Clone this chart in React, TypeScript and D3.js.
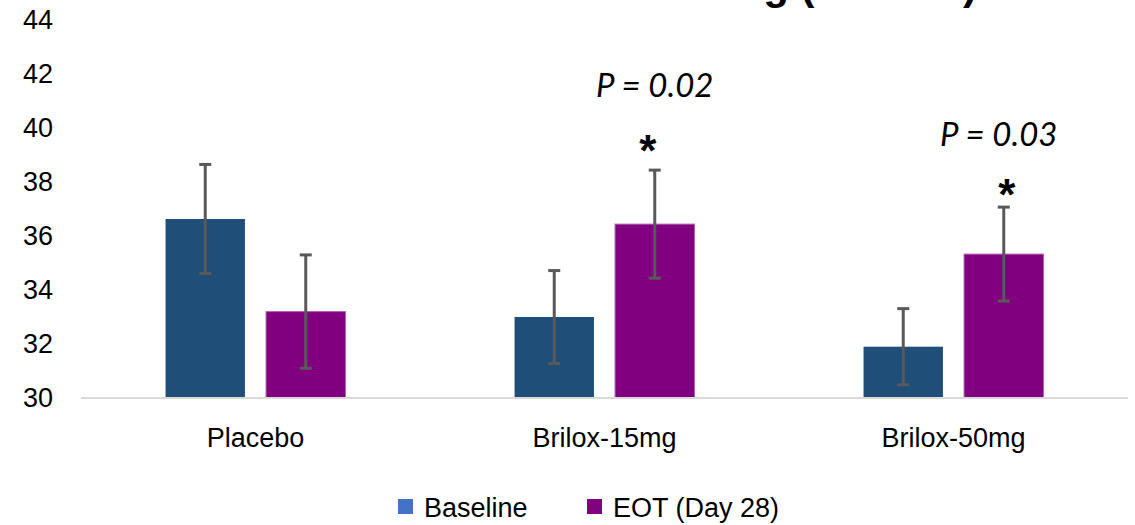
import React from "react";
import * as d3 from "d3";

const categories = ["Placebo", "Brilox-15mg", "Brilox-50mg"];
const seriesNames = ["Baseline", "EOT (Day 28)"];
const baselineValues = [36.63, 33.0, 31.9];
const eotValues = [33.2, 36.44, 35.33];
const baselineErr = [2.02, 1.72, 1.41];
const eotErr = [2.1, 2.0, 1.74];
const yTicks = [30, 32, 34, 36, 38, 40, 42, 44];
const annotationCategories = ["Brilox-15mg", "Brilox-50mg"];
const annotationLabels = ["P = 0.02", "P = 0.03"];
const titleText = "Verbal Learning (HVLT-R)";

const W = 1135;
const H = 525;
const barColors = ["#1F4E79", "#800080"];
const legendColors = ["#4472C4", "#800080"];
// layout offsets (pixels) of annotation text above the error bar top
const pOffsets = [73, 61];
const pDx = [0, -5];
const starOffsets = [29, 22];
const starDx = [-7, 3];

export default function App() {
  const left = 81;
  const right = 1128;
  const y = d3.scaleLinear().domain([30, 44]).range([398, 20]);
  const x0 = d3.scaleBand().domain(categories).range([left, right]).paddingInner(0).paddingOuter(0);
  const groupW = 200;
  const x1 = d3.scaleBand().domain(seriesNames).range([0, groupW]).paddingInner(0.21).paddingOuter(0.1);
  const series = [
    { name: seriesNames[0], values: baselineValues, err: baselineErr },
    { name: seriesNames[1], values: eotValues, err: eotErr },
  ];
  const font = "'Liberation Sans', Arial, sans-serif";
  const groupStart = (c: string) => (x0(c) as number) + x0.bandwidth() / 2 - groupW / 2;

  return (
    <svg width={W} height={H} style={{ position: "absolute", left: 0, top: 0, background: "#fff" }}>
      <text x={977} y={-1} textAnchor="end" fontFamily={font} fontWeight="bold" fontSize={42} fill="#000">
        {titleText}
      </text>
      {yTicks.map((t) => (
        <text key={t} x={53} y={y(t)} dy="0.35em" textAnchor="end" fontFamily={font} fontSize={27} fill="#000">
          {t}
        </text>
      ))}
      {series.map((s, si) =>
        categories.map((c, ci) => {
          const bx = groupStart(c) + (x1(s.name) as number);
          const bw = x1.bandwidth();
          return (
            <rect
              key={s.name + c}
              x={bx}
              y={y(s.values[ci])}
              width={bw}
              height={y(30) - y(s.values[ci])}
              fill={barColors[si]}
              stroke={si === 1 ? "#B060B0" : "none"}
              strokeWidth={si === 1 ? 1 : 0}
            />
          );
        })
      )}
      <line x1={left} x2={right} y1={y(30)} y2={y(30)} stroke="#D9D9D9" strokeWidth={2} />
      {series.map((s, si) =>
        categories.map((c, ci) => {
          const cx = groupStart(c) + (x1(s.name) as number) + x1.bandwidth() / 2;
          const top = y(s.values[ci] + s.err[ci]);
          const bot = y(s.values[ci] - s.err[ci]);
          return (
            <g key={"e" + s.name + c} stroke="#595959" strokeWidth={3}>
              <line x1={cx} x2={cx} y1={top} y2={bot} />
              <line x1={cx - 6} x2={cx + 6} y1={top} y2={top} />
              <line x1={cx - 6} x2={cx + 6} y1={bot} y2={bot} />
            </g>
          );
        })
      )}
      {annotationCategories.map((c, i) => {
        const ci = categories.indexOf(c);
        const cx = groupStart(c) + (x1(seriesNames[1]) as number) + x1.bandwidth() / 2;
        const top = y(eotValues[ci] + eotErr[ci]);
        const starCenter = top - starOffsets[i];
        return (
          <g key={c}>
            <text x={cx + starDx[i]} y={starCenter + 25} textAnchor="middle" fontFamily={font} fontWeight="bold" fontSize={44} fill="#000">
              *
            </text>
            <text x={cx + pDx[i]} y={top - pOffsets[i]} textAnchor="middle" fontFamily="Lato, 'Open Sans', sans-serif" fontStyle="italic" fontSize={33} fill="#000">
              {annotationLabels[i]}
            </text>
          </g>
        );
      })}
      {categories.map((c) => (
        <text key={c} x={(x0(c) as number) + x0.bandwidth() / 2} y={447} textAnchor="middle" fontFamily={font} fontSize={27} fill="#000">
          {c}
        </text>
      ))}
      {seriesNames.map((n, i) => {
        const lx = [398, 587][i];
        return (
          <g key={n}>
            <rect x={lx} y={499} width={15} height={15} fill={legendColors[i]} />
            <text x={lx + 26} y={517} fontFamily={font} fontSize={27} fill="#000">
              {n}
            </text>
          </g>
        );
      })}
    </svg>
  );
}
